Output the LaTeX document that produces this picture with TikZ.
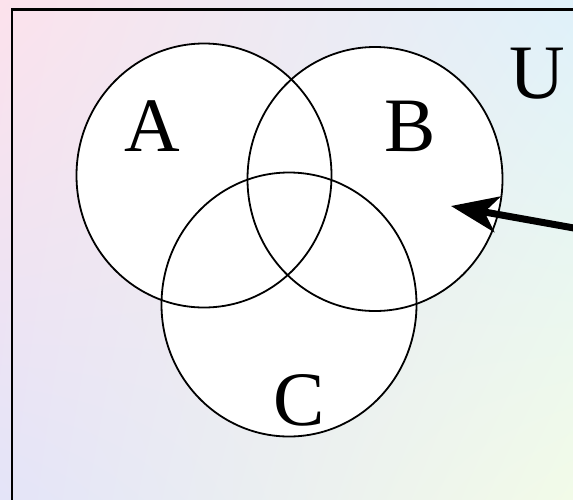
\documentclass[tikz,border=0pt]{standalone}
\usepackage{fontspec}
\setmainfont{Liberation Serif}
\usetikzlibrary{arrows.meta,shadings,shapes.geometric}
\definecolor{bgTL}{HTML}{FCE2EC}
\definecolor{bgTR}{HTML}{DFF1FA}
\definecolor{bgBL}{HTML}{E4E4F8}
\definecolor{bgBR}{HTML}{F2FBE8}
\tikzset{
  setfill/.style={ellipse, fill=white, minimum width=255pt, minimum height=264pt, inner sep=0pt},
  setcircle/.style={ellipse, draw=black, line width=1.8pt, minimum width=255pt, minimum height=264pt, inner sep=0pt},
  setlabel/.style={font=\fontsize{77}{77}\selectfont, inner sep=0pt, text=black},
}
\begin{document}
\begin{tikzpicture}[x=1pt,y=-1pt]
\useasboundingbox (0,0) rectangle (573,499);
\shade[upper left=bgTL, upper right=bgTR, lower left=bgBL, lower right=bgBR] (0,0) rectangle (573,499);
% frame (extends beyond right and bottom)
\draw[line width=2.4pt] (580,9.5) -- (12,9.5) -- (12,510);
% white fills
\node[setfill] (fA) at (204,175.5) {};
\node[setfill] (fB) at (375,179) {};
\node[setfill] (fC) at (289,304.5) {};
% outlines
\node[setcircle] (cA) at (204,175.5) {};
\node[setcircle] (cB) at (375,179) {};
\node[setcircle] (cC) at (289,304.5) {};
% labels
\node[setlabel] (lA) at (152,126) {A};
\node[setlabel] (lB) at (410,126) {B};
\node[setlabel] (lC) at (299,400) {C};
\node[setlabel] (lU) at (537,74) {U};
% arrow
\coordinate (arrowStart) at (585,230);
\coordinate (arrowTip) at (451,206);
\draw[line width=7pt, -{Stealth[length=47pt, width=36pt, inset=13pt]}] (arrowStart) -- (arrowTip);
\end{tikzpicture}
\end{document}
